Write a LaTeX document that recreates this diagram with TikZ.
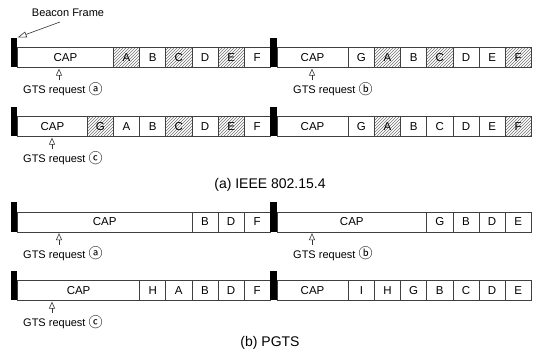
\documentclass[tikz,border=0pt]{standalone}
\usepackage{fontspec}
\setmainfont{Liberation Sans}
\newfontfamily\symfont{Noto Sans CJK KR}
\usetikzlibrary{arrows.meta,patterns}
\newcommand{\cw}{26.14}
\newcommand{\drawframe}[6]{%
  \pgfmathsetmacro{\capw}{#3-(#2+6.5)-#5*\cw}
  \node[barbox, anchor=north west] (#1bar) at (#2,#4-9.5) {};
  \node[cellbox, minimum width=\capw pt, anchor=north west] (#1cap) at (#2+6.5,#4) {CAP};
  \foreach \lab/\h [count=\i] in {#6} {
    \pgfmathsetmacro{\xx}{#3-(#5-\i+1)*\cw}
    \node[cellbox, minimum width=\cw pt, anchor=north west, \h] (#1\lab) at (\xx,#4) {\lab};
  }
}
\newcommand{\gts}[5]{% id, arrow x, box bottom y, text x, letter
  \node[gtstext, anchor=west] (#1gts) at (#4,#3+22) {GTS request {\symfont\fontsize{14}{16}\selectfont\raisebox{-0.5pt}{#5}}};
  \coordinate (#1tail) at (#2,#3+13);
  \draw[gtsarrow] (#1tail) -- ([yshift=-1pt]#1cap.south -| #1tail);
}
\begin{document}
\begin{tikzpicture}[x=1pt,y=-1pt,
  cellbox/.style={draw=black!75, line width=0.6pt, minimum height=20pt, inner sep=0pt,
    font=\fontsize{11.5}{13}\selectfont},
  barbox/.style={fill=black, minimum width=6.5pt, minimum height=29.5pt, inner sep=0pt},
  plain/.style={},
  hatch/.style={pattern=north east lines, pattern color=black!55},
  gtstext/.style={inner sep=0pt, font=\fontsize{11}{13}\selectfont},
  gtsarrow/.style={draw=black!80, line width=0.6pt, -{Triangle[open, length=7pt, width=6pt]}},
  bfarrow/.style={draw=black!80, line width=0.6pt, -{Triangle[open, length=9pt, width=6pt]}},
  captext/.style={inner sep=0pt, font=\fontsize{14}{16}\selectfont}]
\useasboundingbox (0,0) rectangle (539,354);
\fill[white] (0,0) rectangle (539,354);

% (a) IEEE 802.15.4
\drawframe{aaL}{10.75}{270}{47}{6}{A/hatch,B/plain,C/hatch,D/plain,E/hatch,F/plain}
\drawframe{aaR}{270}{531}{47}{7}{G/plain,A/hatch,B/plain,C/hatch,D/plain,E/plain,F/hatch}
\drawframe{abL}{10.75}{270}{116}{7}{G/hatch,A/plain,B/plain,C/hatch,D/plain,E/hatch,F/plain}
\drawframe{abR}{270}{531}{116}{7}{G/plain,A/hatch,B/plain,C/plain,D/plain,E/plain,F/hatch}

\node[gtstext] (bf) at (68,13) {Beacon Frame};
\coordinate (bftail) at (60,22);
\draw[bfarrow] (bftail) -- (aaLbar.north east);

\gts{aaL}{59}{67}{23}{ⓐ}
\gts{aaR}{312}{67}{293}{ⓑ}
\gts{abL}{52}{136}{23}{ⓒ}

\node[captext] (capa) at (270,185) {(a) IEEE 802.15.4};

% (b) PGTS
\drawframe{baL}{10.75}{270}{211.5}{3}{B/plain,D/plain,F/plain}
\drawframe{baR}{270}{531}{211.5}{4}{G/plain,B/plain,D/plain,E/plain}
\drawframe{bbL}{10.75}{270}{280}{5}{H/plain,A/plain,B/plain,D/plain,F/plain}
\drawframe{bbR}{270}{531}{280}{7}{I/plain,H/plain,G/plain,B/plain,C/plain,D/plain,E/plain}

\gts{baL}{59}{231.5}{23}{ⓐ}
\gts{baR}{312}{231.5}{293}{ⓑ}
\gts{bbL}{52}{300}{23}{ⓒ}

\node[captext] (capb) at (270,343) {(b) PGTS};
\end{tikzpicture}
\end{document}
